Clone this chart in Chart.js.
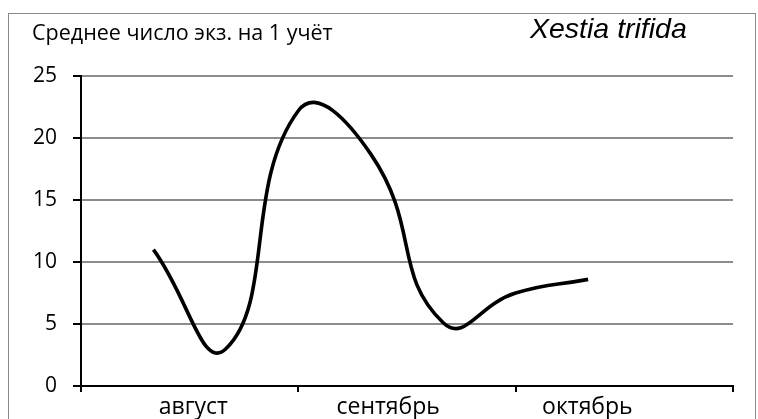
<!DOCTYPE html>
<html lang="ru">
<head>
  <meta charset="UTF-8" />
  <title>Xestia trifida</title>
  <style>
    html, body { margin: 0; padding: 0; background: #fff; }
    .wrap { position: relative; width: 758px; height: 419px; overflow: hidden; }
    .frame { position: absolute; left: 8px; top: 13px; width: 746px; height: 420px; border: 1px solid #8a8a8a; }
    .ylabel { position: absolute; left: 32px; top: 21px; font: 21.5px/1 "Open Sans", sans-serif; color: #000; white-space: nowrap; }
    .species { position: absolute; left: 530px; top: 14px; font: italic 28.5px/1 "Liberation Sans", Arial, sans-serif; color: #000; white-space: nowrap; }
    canvas { position: absolute; left: 0; top: 0; }
  </style>
</head>
<body>
  <div class="wrap">
    <div class="frame"></div>
    <canvas id="chart" width="758" height="419"></canvas>
    <div class="ylabel">Среднее число экз. на 1 учёт</div>
    <div class="species">Xestia trifida</div>
  </div>

  <script src="https://cdn.jsdelivr.net/npm/chart.js"></script>
  <script>
    // decade slots 0..9, months split at 3 and 6
    const months = ["август", "сентябрь", "октябрь"];
    const values = [null, 11, 3.0, 22.2, 18.7, 5.1, 7.5, 8.6, null, null];
    const yTicks = [0, 5, 10, 15, 20, 25];

    const boundaries = [0, 3, 6, 9];
    const labelPos = [1.55, 4.24, 6.99];

    const points = values.map((v, i) => ({ x: i, y: v }));

    new Chart(document.getElementById("chart"), {
      type: "line",
      data: {
        datasets: [{
          data: points,
          borderColor: "#000",
          borderWidth: 3.6,
          pointRadius: 0,
          tension: 0.5,
          fill: false
        }]
      },
      options: {
        responsive: false,
        animation: false,
        events: [],
        layout: { padding: { left: 0, right: 25, top: 76, bottom: 0 } },
        plugins: { legend: { display: false }, tooltip: { enabled: false } },
        scales: {
          x: {
            type: "linear",
            min: 0,
            max: 9,
            afterBuildTicks: axis => {
              axis.ticks = boundaries.concat(labelPos).sort((a, b) => a - b).map(v => ({ value: v }));
            },
            afterFit: axis => { axis.height = 33; },
            border: { color: "#000", width: 2 },
            grid: {
              drawOnChartArea: false,
              tickLength: 6,
              lineWidth: 2,
              color: ctx => boundaries.includes(ctx.tick && ctx.tick.value) ? "#000" : "rgba(0,0,0,0)"
            },
            ticks: {
              autoSkip: false,
              maxRotation: 0,
              padding: 2,
              color: "#000",
              font: { family: "Open Sans", size: 23 },
              callback: v => {
                const k = labelPos.indexOf(v);
                return k >= 0 ? months[k] : "";
              }
            }
          },
          y: {
            min: 0,
            max: 25,
            afterBuildTicks: axis => { axis.ticks = yTicks.map(v => ({ value: v })); },
            afterFit: axis => { axis.width = 81; },
            border: { color: "#000", width: 2 },
            grid: {
              color: ctx => ctx.tick && ctx.tick.value === 0 ? "rgba(0,0,0,0)" : "#8c8c8c",
              lineWidth: 2,
              tickLength: 8,
              tickColor: "#000"
            },
            ticks: {
              padding: 16,
              color: "#000",
              font: { family: "Open Sans", size: 21 }
            }
          }
        }
      }
    });
  </script>
</body>
</html>
